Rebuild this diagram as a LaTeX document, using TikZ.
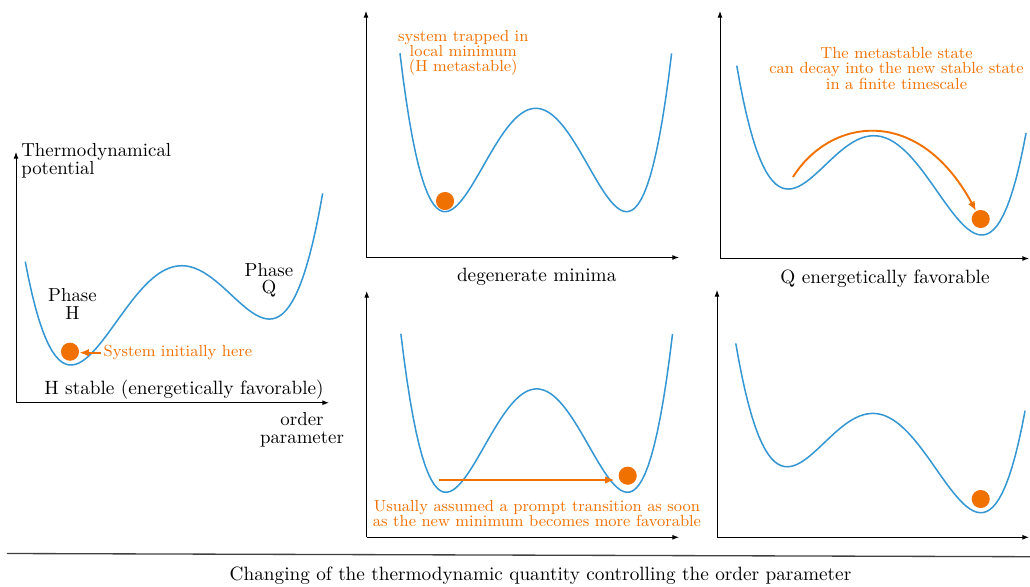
\documentclass[tikz,border=0pt]{standalone}
\usepackage{tikz}
\usetikzlibrary{arrows.meta, positioning, calc}
\definecolor{wellblue}{RGB}{52,150,210}
\definecolor{ballorange}{RGB}{240,112,0}

\begin{document}
\begin{tikzpicture}[x=0.53pt, y=-0.53pt,
    axis/.style={line width=0.5pt, -{Latex[length=3.5pt,width=2.6pt]}},
    well/.style={wellblue, line width=0.8pt},
    ball/.style={circle, fill=ballorange, inner sep=0pt, minimum size=9.6pt},
    note/.style={ballorange, align=center, font=\fontsize{8.5}{10.2}\selectfont, inner sep=1pt},
    lbl/.style={align=center, font=\fontsize{10.2}{12.2}\selectfont, inner sep=1pt},
    stack/.style={align=center, font=\fontsize{10}{12}\selectfont, inner sep=1pt},
    move/.style={ballorange, line width=1pt, -{Latex[length=5pt,width=4pt]}}]
    \useasboundingbox (0,0) rectangle (1030,586);
    % ---- left panel: H stable ----
    \coordinate (oH) at (16,402.7);
    \draw[axis] (oH) -- (16,152);
    \draw[axis] (oH) -- (329,402.7);
    \node[stack, align=left, anchor=north west] (potlbl) at (19,141.5) {Thermodynamical\\[-2.9pt]potential};
    \node[stack, anchor=north] (ordlbl) at (302,410.5) {order\\[-2.9pt]parameter};
    \draw[well] plot[domain=-1.495:1.495, samples=90] ({174+99.5*\x},{341.6-(75*(\x*\x-1)^2+23*\x)});
    \node[stack, anchor=north] (phH) at (72.5,286.5) {Phase\\[-2.9pt]H};
    \node[stack, anchor=north] (phQ) at (269,261) {Phase\\[-2.9pt]Q};
    \node[ball] (dotH) at (70,351.7) {};
    \node[note, anchor=base west] (initH) at (101.4,356.7) {System initially here};
    \draw[move, line width=0.9pt] (initH.west) -- (initH.west -| dotH.east);
    \node[lbl, anchor=base] (stabH) at (184,394) {H stable (energetically favorable)};
    % ---- top middle: degenerate ----
    \coordinate (oA) at (366,257.5);
    \draw[axis] (oA) -- (366,11);
    \draw[axis] (oA) -- (679,257.5);
    \draw[well] plot[domain=-1.496:1.496, samples=90] ({535.8+90.8*\x},{211.7-103.4*(\x*\x-1)^2});
    \node[ball] (dotA) at (445,201) {};
    \node[note, anchor=north] (trapA) at (463.3,28.6) {system trapped in\\[-2.4pt]local minimum\\[-2.4pt](H metastable)};
    \node[lbl, anchor=base] (degA) at (536.7,281.7) {degenerate minima};
    % ---- top right: Q favorable, decay ----
    \coordinate (oC) at (720,258.5);
    \draw[axis] (oC) -- (720,11);
    \draw[axis] (oC) -- (1029,258.5);
    \draw[well] plot[domain=-1.49:1.493, samples=90] ({881.3+97*\x},{211.6-(75*(\x*\x-1)^2-23*\x)});
    \node[ball] (dotC) at (980.7,219) {};
    \coordinate (decayC) at (793,177);
    \draw[move] (decayC) .. controls (830,118) and (918,104) .. (dotC.120);
    \node[note, anchor=north] (metaC) at (896.5,45.5) {The metastable state\\[-2.2pt]can decay into the new stable state\\[-2.2pt]in a finite timescale};
    \node[lbl, anchor=base] (favC) at (885,283) {Q energetically favorable};
    % ---- bottom middle: prompt jump ----
    \coordinate (oB) at (366.7,537.3);
    \draw[axis] (oB) -- (366.7,291);
    \draw[axis] (oB) -- (679,537.3);
    \draw[well] plot[domain=-1.496:1.496, samples=90] ({536.7+90.8*\x},{492.3-103.4*(\x*\x-1)^2});
    \node[ball] (dotB) at (627.7,475.7) {};
    \coordinate (jumpB) at (439,480);
    \draw[move, shorten >=2pt] (jumpB) -- (jumpB -| dotB.west);
    \node[note, anchor=north] (promptB) at (537,498.5) {Usually assumed a prompt transition as soon\\[-2.2pt]as the new minimum becomes more favorable};
    % ---- bottom right: settled ----
    \coordinate (oD) at (717,537.3);
    \draw[axis] (oD) -- (717,290);
    \draw[axis] (oD) -- (1029,537.3);
    \draw[well] plot[domain=-1.49:1.493, samples=90] ({880.3+97*\x},{489.3-(75*(\x*\x-1)^2-23*\x)});
    \node[ball] (dotD) at (980.7,499) {};
    % ---- bottom line and caption ----
    \draw[line width=0.7pt, black!75] (7,553.5) -- (1030,556.7);
    \node[lbl, anchor=base] (capt) at (540.5,580) {Changing of the thermodynamic quantity controlling the order parameter};
\end{tikzpicture}
\end{document}
